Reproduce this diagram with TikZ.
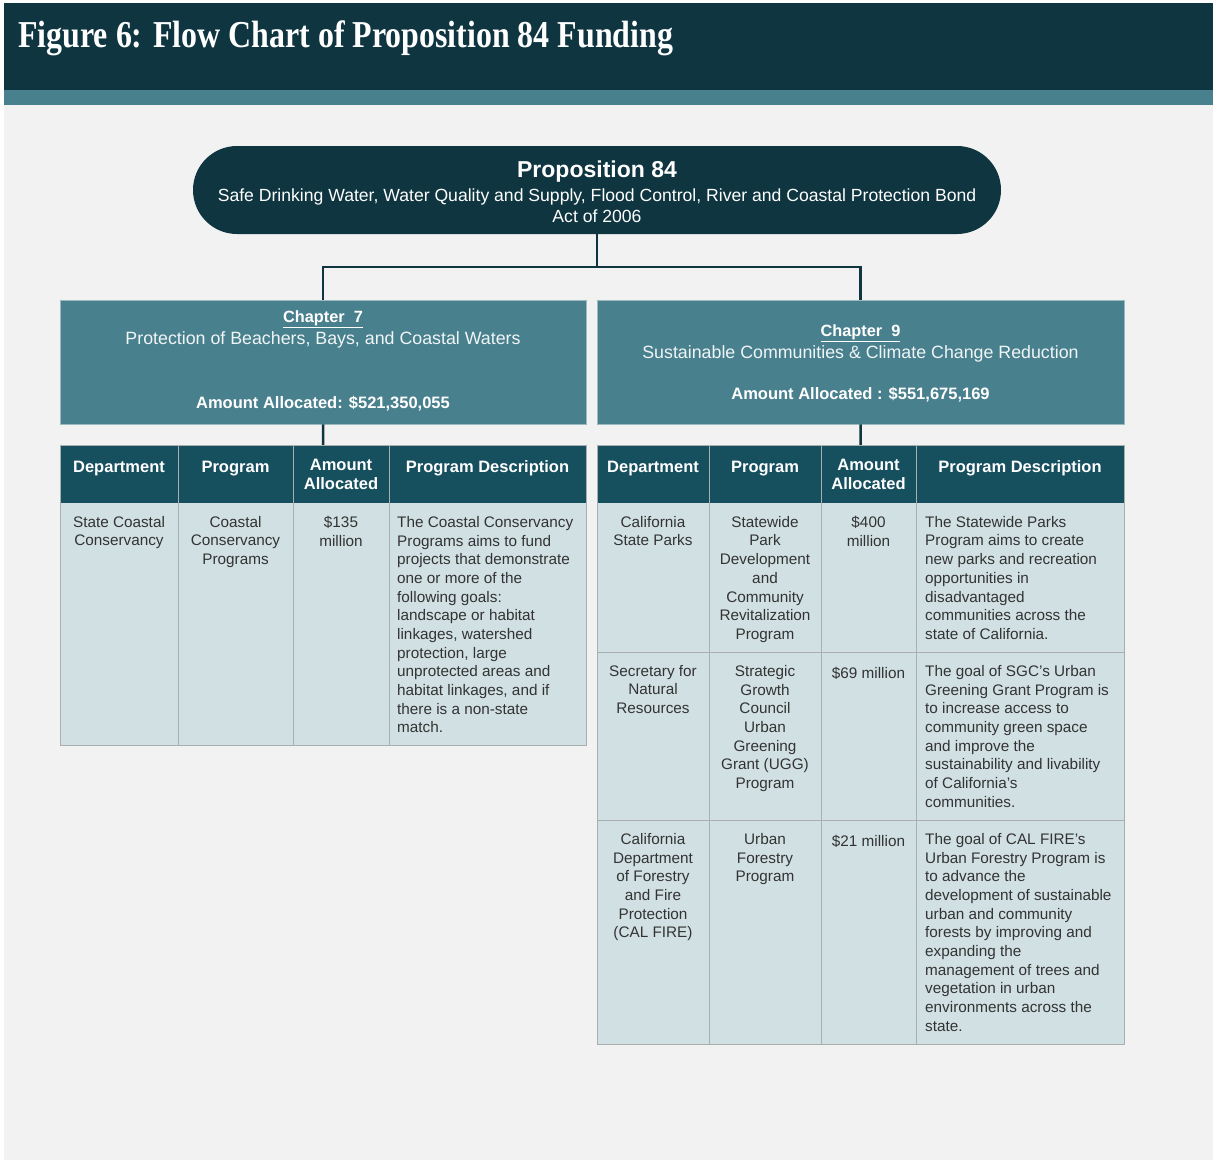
\documentclass[tikz,border=0pt]{standalone}
\usepackage{fontspec}
\setmainfont{Liberation Sans}
\newfontfamily\titleserif{Liberation Serif}
\usetikzlibrary{positioning}

\definecolor{navy}{HTML}{0E3540}
\definecolor{chapfill}{HTML}{49808E}
\definecolor{headfill}{HTML}{164F5E}
\definecolor{bodyfill}{HTML}{D1E0E3}
\definecolor{pagegray}{HTML}{F2F2F2}
\definecolor{gridgray}{HTML}{A9AEAF}
\definecolor{celltext}{HTML}{333333}

\tikzset{
  cell/.style={anchor=north, align=center, inner sep=0pt, text=celltext,
    font=\fontsize{15.3}{18.7}\selectfont, execute at begin node=\strut},
  desc/.style={cell, anchor=north west, align=left},
  headcell/.style={anchor=north, align=center, inner sep=0pt, text=white,
    font=\bfseries\fontsize{16.5}{19}\selectfont, execute at begin node=\strut},
  chapbox/.style={fill=chapfill, draw=chapfill!55!white, line width=0.8pt,
    minimum height=124pt, inner sep=0pt},
  chaptext/.style={anchor=base, inner sep=0pt, text=white},
  headrow/.style={fill=headfill, anchor=north west, minimum height=58pt, inner sep=0pt},
  link/.style={draw=navy, line width=2.5pt},
  gridline/.style={draw=gridgray, line width=0.8pt},
}

\begin{document}
\begin{tikzpicture}[x=1pt,y=-1pt]
    \useasboundingbox (0,0) rectangle (1213,1163);
    % page, banner and stripe
    \fill[white] (0,0) rectangle (1213,1163);
    \fill[pagegray] (4,105) rectangle (1213,1160);
    \fill[navy] (4,3) rectangle (1213,90);
    \fill[chapfill] (4,90) rectangle (1213,105);
    \node[anchor=base west, inner sep=0pt, text=white] (title) at (18,47)
        {\scalebox{0.84}[1]{\titleserif\bfseries\fontsize{38}{40}\selectfont Figure 6: Flow Chart of Proposition 84 Funding}};

    % the bond
    \node[fill=navy, rounded corners=44pt, minimum width=808pt, minimum height=88pt, inner sep=0pt] (prop) at (597,190) {};
    \node[chaptext, font=\bfseries\fontsize{23}{26}\selectfont] (propname) at (597,177) {Proposition 84};
    \node[anchor=north, align=center, inner sep=0pt, text=white, font=\fontsize{17.6}{21}\selectfont,
        execute at begin node=\strut] (proptext) at (597,188.3)
        {Safe Drinking Water, Water Quality and Supply, Flood Control, River and Coastal Protection Bond\\Act of 2006};

    % chapters
    \node[chapbox, minimum width=526pt] (ch7) at (323,362) {};
    \node[chapbox, minimum width=527pt] (ch9) at (860.5,362) {};
    \node[chaptext, font=\bfseries\fontsize{16.3}{18}\selectfont] (ch7num) at (323,322.5) {\underline{Chapter\ \ 7}};
    \node[chaptext, text=white!92!chapfill, font=\fontsize{17.8}{20}\selectfont] (ch7name) at (323,344) {Protection of Beachers, Bays, and Coastal Waters};
    \node[chaptext, font=\bfseries\fontsize{16.5}{20}\selectfont] (ch7sum) at (323,408.5) {Amount Allocated: \$521,350,055};
    \node[chaptext, font=\bfseries\fontsize{16.3}{18}\selectfont] (ch9num) at (860.5,336.5) {\underline{Chapter\ \ 9}};
    \node[chaptext, text=white!92!chapfill, font=\fontsize{17.8}{20}\selectfont] (ch9name) at (860.5,358) {Sustainable Communities \& Climate Change Reduction};
    \node[chaptext, font=\bfseries\fontsize{16.5}{20}\selectfont] (ch9sum) at (860.5,399.5) {Amount Allocated : \$551,675,169};

    % table bodies
    \fill[bodyfill] (60,503) rectangle (586,745);
    \fill[bodyfill] (597,503) rectangle (1124,1044);
    \node[headrow, minimum width=526pt] (hd7) at (60,445) {};
    \node[headrow, minimum width=527pt] (hd9) at (597,445) {};

    % connectors
    \coordinate (split) at (597,267);
    \draw[link] (prop.south) -- (split) -| (ch7.north);
    \draw[link] (split) -| (ch9.north);
    \draw[link] (ch7.south) -- (hd7.north);
    \draw[link] (ch9.south) -- (hd9.north);

    % grid
    \draw[gridline] (60,445) rectangle (586,745);
    \foreach \x in {178,293,389}
        \draw[gridline] (\x,445) -- (\x,745);
    \draw[gridline] (597,445) rectangle (1124,1044);
    \foreach \x in {709,821,916}
        \draw[gridline] (\x,445) -- (\x,1044);
    \foreach \y in {652,820}
        \draw[gridline] (597,\y) -- (1124,\y);

    % headers
    \node[headcell] (h7dept) at (119,458.7) {Department};
    \node[headcell] (h7prog) at (235.5,458.7) {Program};
    \node[headcell] (h7amt) at (341,458.7) {Amount\\Allocated};
    \node[headcell] (h7desc) at (487.5,458.7) {Program Description};
    \node[headcell] (h9dept) at (653,458.7) {Department};
    \node[headcell] (h9prog) at (765,458.7) {Program};
    \node[headcell] (h9amt) at (868.5,458.7) {Amount\\Allocated};
    \node[headcell] (h9desc) at (1020,458.7) {Program Description};

    % chapter 7 row
    \node[cell] (c7dept) at (119,516) {State Coastal\\Conservancy};
    \node[cell] (c7prog) at (235.5,516) {Coastal\\Conservancy\\Programs};
    \node[cell] (c7amt) at (341,516) {\$135\\million};
    \node[desc] (c7desc) at (397,516) {The Coastal Conservancy\\Programs aims to fund\\projects that demonstrate\\one or more of the\\following goals:\\landscape or habitat\\linkages, watershed\\protection, large\\unprotected areas and\\habitat linkages, and if\\there is a non-state\\match.};

    % chapter 9 rows
    \node[cell] (parksdept) at (653,516) {California\\State Parks};
    \node[cell] (parksprog) at (765,516) {Statewide\\Park\\Development\\and\\Community\\Revitalization\\Program};
    \node[cell] (parksamt) at (868.5,516) {\$400\\million};
    \node[desc] (parksdesc) at (925,516) {The Statewide Parks\\Program aims to create\\new parks and recreation\\opportunities in\\disadvantaged\\communities across the\\state of California.};

    \node[cell] (uggdept) at (653,665) {Secretary for\\Natural\\Resources};
    \node[cell] (uggprog) at (765,665) {Strategic\\Growth\\Council\\Urban\\Greening\\Grant (UGG)\\Program};
    \node[cell] (uggamt) at (868.5,665) {\$69 million};
    \node[desc] (uggdesc) at (925,665) {The goal of SGC’s Urban\\Greening Grant Program is\\to increase access to\\community green space\\and improve the\\sustainability and livability\\of California’s\\communities.};

    \node[cell] (firedept) at (653,833) {California\\Department\\of Forestry\\and Fire\\Protection\\(CAL FIRE)};
    \node[cell] (fireprog) at (765,833) {Urban\\Forestry\\Program};
    \node[cell] (fireamt) at (868.5,833) {\$21 million};
    \node[desc] (firedesc) at (925,833) {The goal of CAL FIRE’s\\Urban Forestry Program is\\to advance the\\development of sustainable\\urban and community\\forests by improving and\\expanding the\\management of trees and\\vegetation in urban\\environments across the\\state.};
\end{tikzpicture}
\end{document}
